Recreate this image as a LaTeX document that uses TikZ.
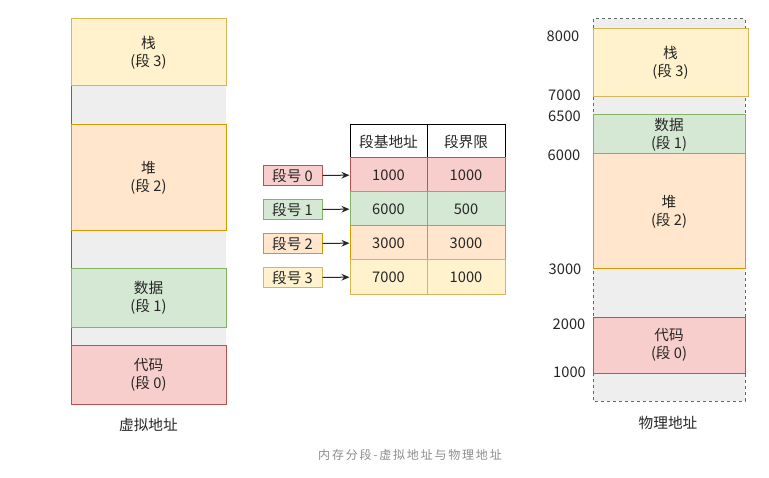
\documentclass[tikz,border=0pt]{standalone}
\usepackage{fontspec}
\setmainfont{Noto Sans CJK SC}
\newfontfamily\capfont[LetterSpace=15]{Noto Sans CJK SC}
\usetikzlibrary{positioning,arrows.meta}

\definecolor{codefill}{HTML}{F8CECC}
\definecolor{codeline}{HTML}{B85450}
\definecolor{datafill}{HTML}{D5E8D4}
\definecolor{dataline}{HTML}{82B366}
\definecolor{heapfill}{HTML}{FFE6CC}
\definecolor{heapline}{HTML}{D79B00}
\definecolor{stackfill}{HTML}{FFF2CC}
\definecolor{stackline}{HTML}{D6B656}
\definecolor{gapfill}{HTML}{EEEEEE}
\definecolor{gapline}{HTML}{666666}

\tikzset{
	every seg/.style={draw, line width=0.75pt, align=center, inner sep=0pt,
		text=black!85, font=\fontsize{11}{13.5}\selectfont},
	seg/.style 2 args={every seg, minimum width=#1*0.75pt, minimum height=#2*0.75pt},
	seg code/.style={fill=codefill, draw=codeline},
	seg data/.style={fill=datafill, draw=dataline},
	seg heap/.style={fill=heapfill, draw=heapline},
	seg stack/.style={fill=stackfill, draw=stackline},
	head/.style={fill=white, draw=black},
	plain/.style={align=center, inner sep=0pt, text=black!85, font=\fontsize{11}{13.5}\selectfont}
}

\begin{document}
\begin{tikzpicture}[x=0.75pt, y=-0.75pt, >={Stealth[length=6pt,width=5pt]}]
		
		\useasboundingbox (0,0) rectangle (769,478);
		
		% virtual address space
		\fill[gapfill] (71,19) rectangle (226,404);
		\draw[gapline, line width=0.75pt] (71,19) -- (71,404);
		
		\foreach \n/\y/\h in {stack/52.5/67, heap/178/106, data/298/58, code/374.5/59}
		\node [seg={155}{\h}, seg \n] (virt-\n) at (148.5,\y) {};
		
		\node [plain] at (virt-stack) {栈\\(段 3)};
		\node [plain] at (virt-heap) {堆\\(段 2)};
		\node [plain] at (virt-data) {数据\\(段 1)};
		\node [plain] at (virt-code) {代码\\(段 0)};
		
		\node [plain] (virt-title) at (148.5,425) {虚拟地址};
		
		% segment table
		\node [seg={77}{34}, head] (head-base) at (388.5,141.5) {段基地址};
		\node [seg={78}{34}, head] (head-limit) at (466,141.5) {段界限};
		
		\foreach \b/\l/\s [count=\i from 0] in {1000/1000/code, 6000/500/data, 3000/3000/heap, 7000/1000/stack}
		{
			\node [seg={77}{34}, seg \s] (base-\i) at (388.5,175+34*\i) {\b};
			\node [seg={78}{34}, seg \s] (limit-\i) at (466,175+34*\i) {\l};
			\node [seg={59}{20}, seg \s] (num-\i) at (292.5,175.5+34*\i) {段号 \i};
			\draw [->, black!85, line width=0.75pt] (num-\i) -- (base-\i);
		}
		
		% physical address space
		\draw [gapline, fill=gapfill, line width=0.75pt, dash pattern=on 2.25pt off 2.25pt]
		(593,19) rectangle (745,401);
		
		\node [seg={155}{68}, seg stack] (phys-stack) at (670.5,63) {栈\\(段 3)};
		\node [seg={152}{39}, seg data] (phys-data) at (669,134.5) {数据\\(段 1)};
		\node [seg={152}{115}, seg heap] (phys-heap) at (669,211.5) {堆\\(段 2)};
		\node [seg={152}{56}, seg code] (phys-code) at (669,345) {代码\\(段 0)};
		
		\foreach \a/\x/\y in {8000/563/36, 7000/564.5/95, 6500/564.5/116, 6000/564/155, 3000/565/269, 2000/569/324, 1000/569.5/372}
		\node [plain] (addr-\a) at (\x,\y) {\a};
		
		\node [plain] (phys-title) at (668,423) {物理地址};
		
		\node [text=black!45, font=\capfont\fontsize{9}{11}\selectfont] (caption) at (410,455) {内存分段-虚拟地址与物理地址};

		\end{tikzpicture}
\end{document}
